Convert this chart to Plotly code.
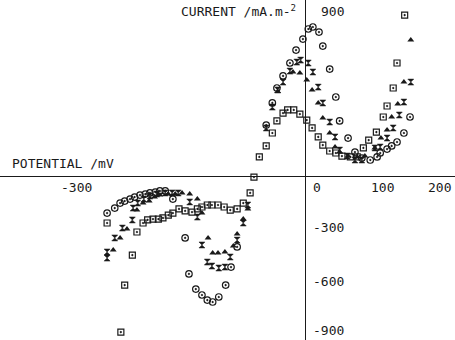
import plotly.graph_objects as go

# ---- data (potential in mV, current density in mA/m^2) ----
circ_x = [-52, -44, -38, -30, -21, -13, -4, 3, 9, 17, 22, 31, 39, 44, 55, 64, 73, 84, 93, 97, 106, 112, 119, 128, 136,
          -260, -250, -243, -237, -230, -224, -217, -210, -204, -197, -191, -184, -174, -158, -153, -144, -136, -129,
          -122, -114, -105, -98, -90]
circ_y = [283, 406, 489, 556, 628, 700, 761, 817, 828, 800, 722, 594, 439, 306, 211, 133, 100, 89, 106, 128, 150, 167,
          189, 239, 328,
          -206, -178, -150, -139, -128, -117, -106, -100, -94, -89, -83, -83, -128, -344, -544, -628, -661, -689,
          -700, -672, -606, -506, -394]

hour_x = [-52, -44, -37, -30, -21, -12, -7, 3, 9, 16, 22, 31, 38, 44, 54, 64, 73, 90, 97, 106, 114, 122, 128, 137,
          -260, -260, -250, -240, -227, -226, -220, -212, -204, -195, -184, -175, -167, -152, -142, -136, -129, -123,
          -114, -106, -99, -90, -82, -76]
hour_y = [267, 383, 478, 522, 583, 633, 644, 628, 578, 494, 406, 300, 217, 144, 111, 89, 89, 156, 161, 211, 267, 339,
          411, 522,
          -422, -456, -344, -289, -244, -178, -150, -128, -111, -100, -94, -94, -94, -144, -228, -383, -478, -500,
          -511, -506, -450, -356, -261, -161]

tri_x = [-37, -17, -8, 1, 8, 16, 22, 31, 38, 44, 55, 67, 77, 90, 98, 106, 112, 120, 128, 137,
         -252, -243, -234, -221, -213, -205, -198, -191, -180, -171, -162, -152, -142, -136, -128, -122, -115, -106,
         -95, -90, -82, -76]
tri_y = [470, 578, 572, 533, 478, 406, 322, 239, 161, 133, 111, 106, 111, 156, 211, 256, 328, 400, 522, 756,
         -411, -344, -294, -189, -150, -139, -117, -106, -100, -100, -94, -100, -128, -206, -344, -428, -428, -422,
         -389, -322, -239, -183]

sq_x = [-61, -52, -44, -38, -30, -24, -16, -8, 1, 8, 16, 22, 31, 39, 47, 58, 67, 75, 82, 92, 101, 106, 114, 119, 129,
        -68, -73, -82, -90, -99, -107, -115, -123, -129, -136, -142, -149, -158, -166, -174, -180, -187, -193, -200,
        -207, -213, -221, -227, -237, -242, -260]
sq_y = [106, 167, 239, 306, 350, 367, 367, 344, 311, 267, 217, 172, 139, 128, 111, 106, 106, 156, 200, 244, 328, 389,
        489, 628, 894,
        -6, -94, -150, -183, -189, -172, -161, -161, -161, -172, -183, -200, -194, -183, -206, -217, -233, -239, -239,
        -244, -261, -311, -439, -606, -867, -261]

x_tick_vals = [-300, 0, 100, 200]
y_tick_vals = [900, -300, -600, -900]
x_title = "POTENTIAL /mV"
y_title = "CURRENT /mA.m-<sup>2</sup>"

FONT = "DejaVu Sans Mono, Liberation Mono, monospace"
INK = "#1a1a1a"

fig = go.Figure()
fig.add_trace(go.Scatter(x=sq_x, y=sq_y, mode="markers",
                         marker=dict(symbol="square-open-dot", size=6, color=INK, line=dict(width=1.2, color=INK))))
fig.add_trace(go.Scatter(x=circ_x, y=circ_y, mode="markers",
                         marker=dict(symbol="circle-open-dot", size=6.5, color=INK, line=dict(width=1.2, color=INK))))
fig.add_trace(go.Scatter(x=tri_x, y=tri_y, mode="markers",
                         marker=dict(symbol="triangle-up", size=6, color=INK, line=dict(width=0))))
fig.add_trace(go.Scatter(x=hour_x, y=hour_y, mode="markers",
                         marker=dict(symbol="hourglass", size=6, color=INK, line=dict(width=0.5, color=INK))))

annotations = []
# x tick labels just below the horizontal axis
for v in x_tick_vals:
    a = dict(x=v, y=0, xref="x", yref="y", text=str(v), showarrow=False,
             font=dict(family=FONT, size=13, color=INK), yanchor="top", yshift=-2, xanchor="center")
    if v == 0:
        a.update(xanchor="left", xshift=5)
    if v == 200:
        a.update(xref="paper", x=1, xanchor="right", xshift=-2)
    annotations.append(a)
# y tick labels right of the vertical axis
for v in y_tick_vals:
    annotations.append(dict(x=0, y=v, xref="x", yref="y", text=str(v), showarrow=False,
                            font=dict(family=FONT, size=13, color=INK), xanchor="right", xshift=40,
                            yanchor="middle", yshift=8 if v == -900 else 3))
annotations.append(dict(x=0, y=900, xref="x", yref="y", text=y_title, showarrow=False,
                        font=dict(family=FONT, size=13, color=INK), xanchor="right", xshift=-8,
                        yanchor="middle", yshift=3))
annotations.append(dict(x=0, y=0, xref="paper", yref="y", text=x_title, showarrow=False,
                        font=dict(family=FONT, size=13, color=INK), xanchor="left", xshift=10,
                        yanchor="bottom", yshift=3))

fig.update_layout(
    width=455, height=340, autosize=False,
    margin=dict(l=0, r=0, t=0, b=0),
    paper_bgcolor="white", plot_bgcolor="white",
    showlegend=False,
    annotations=annotations,
    xaxis=dict(range=[-400, 194.8], showgrid=False, showticklabels=False, ticks="",
               zeroline=True, zerolinecolor=INK, zerolinewidth=1.3, showline=False),
    yaxis=dict(range=[-911, 978], showgrid=False, showticklabels=False, ticks="",
               zeroline=True, zerolinecolor=INK, zerolinewidth=1.3, showline=False),
)

fig.write_html("out.html")
